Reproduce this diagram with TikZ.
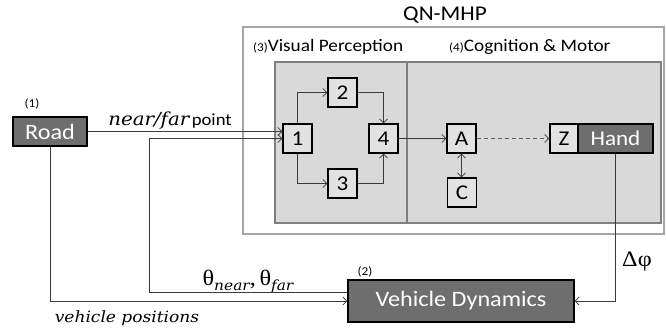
\documentclass[tikz,border=0pt]{standalone}
\usepackage{fontspec}
\setmainfont{Carlito}[FakeStretch=1.1]
\newfontfamily\serifb{Liberation Serif}[FakeStretch=1.1]
\newfontfamily\seriff{DejaVu Serif}[FakeStretch=1.1]
\usetikzlibrary{arrows.meta}
\newcommand\fsz[1]{\fontsize{#1}{#1}\selectfont}
\newcommand\subx[1]{\raisebox{-5pt}{\seriff\itshape\fsz{14}#1}}
\definecolor{boxgray}{HTML}{D9D9D9}
\definecolor{nodegray}{HTML}{E2E2E2}
\definecolor{darkfill}{HTML}{6E6E6E}
\definecolor{linegray}{HTML}{3A3A3A}
\definecolor{outergray}{HTML}{A6A6A6}
\definecolor{innerborder}{HTML}{808080}
\tikzset{
  smallbox/.style={draw=black, line width=1.2pt, fill=nodegray, minimum width=29pt, minimum height=29pt, inner sep=0pt, font=\fsz{21}},
  darkbox/.style={draw=black, line width=1.2pt, fill=darkfill, text=white, inner sep=0pt},
  arr/.style={draw=linegray, line width=0.8pt, -{Straight Barb[length=4pt,width=8pt]}},
  lbl/.style={inner sep=0pt}
}
\begin{document}
\begin{tikzpicture}[x=1pt,y=-1pt]
\useasboundingbox (0,0) rectangle (666,331);
% outer box
\node[lbl, font=\fsz{21}] (title) at (445,15) {QN-MHP};
\draw[outergray, line width=1.6pt, fill=white] (243,27) rectangle (664,234);
\draw[innerborder, line width=2.5pt, fill=boxgray] (275,62) rectangle (661,223);
\draw[innerborder, line width=2.5pt] (407,62) -- (407,223);
\node[lbl, anchor=west] (vp) at (253,47) {{\fsz{12}(3)}{\fsz{17.5}Visual Perception}};
\node[lbl, anchor=west] (cm) at (449,47) {{\fsz{12}(4)}{\fsz{17.5}Cognition \& Motor}};
% small nodes
\node[smallbox] (n1) at (297.5,138.5) {1};
\node[smallbox] (n2) at (342.5,92.5) {2};
\node[smallbox] (n3) at (342.5,183.5) {3};
\node[smallbox] (n4) at (383.5,138.5) {4};
\node[smallbox] (A) at (461.5,138.5) {A};
\node[smallbox] (C) at (462,192.5) {C};
\node[smallbox, minimum width=28pt] (Z) at (564,138.5) {Z};
\node[darkbox, minimum width=75pt, minimum height=29pt, font=\fsz{21}] (Hand) at (615.5,138.5) {Hand};
% Road and vehicle dynamics
\node[darkbox, minimum width=74pt, minimum height=29pt, font=\fsz{22}] (Road) at (50,131.5) {Road};
\node[lbl, font=\fsz{12}] (l1) at (32,104) {(1)};
\node[darkbox, minimum width=226pt, minimum height=42pt, font=\fsz{22}] (VD) at (461,301) {Vehicle Dynamics};
\node[lbl, font=\fsz{12}] (l2) at (365,272) {(2)};
% labels
\node[lbl] (nf) at (170,121) {{\seriff\itshape\fsz{18}near/far}\ {\fsz{17}point}};
\node[lbl] (th) at (248,282) {{\serifb\fsz{22}θ}\subx{near}{\serifb\fsz{22},\,θ}\subx{far}};
\node[lbl] (vpos) at (127,318) {\seriff\itshape\fsz{15.5}vehicle positions};
\node[lbl] (dphi) at (637,262) {\serifb\fsz{22}Δφ};
% connectors
\draw[arr] (Road.east) -- (Road.east -| n1.west);
\draw[arr] ([yshift=9pt]VD.west) -- ++(-198,0) |- (n1.west);
\draw[arr] (Road.south) |- (VD.west);
\draw[arr] (Hand.south) |- (VD.east);
\draw[arr] (n1.north) |- (n2.west);
\draw[arr] (n1.south) |- (n3.west);
\draw[arr] (n2.east) -| (n4.north);
\draw[arr] (n3.east) -| (n4.south);
\draw[arr] (n4.east) -- (A.west);
\draw[arr, {Straight Barb[length=4pt,width=8pt]}-{Straight Barb[length=4pt,width=8pt]}] (A.south) -- (A.south |- C.north);
\draw[arr, draw=linegray!80, line width=1pt, dash pattern=on 4pt off 3pt] (A.east) -- (Z.west);
\end{tikzpicture}
\end{document}
